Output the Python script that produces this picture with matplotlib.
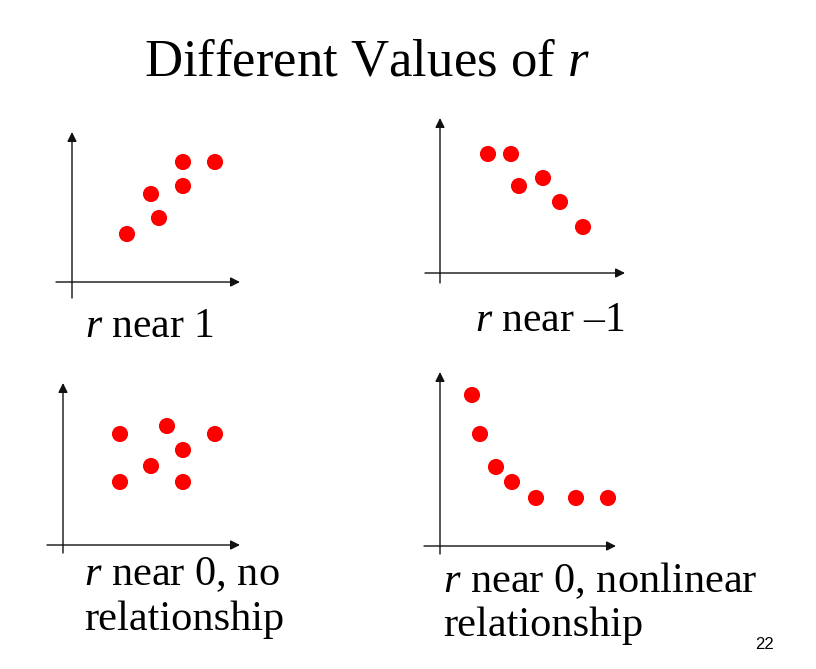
import matplotlib
matplotlib.use("Agg")
import matplotlib.pyplot as plt

plt.rcParams['font.family'] = ['Liberation Serif', 'DejaVu Serif']
plt.rcParams['mathtext.fontset'] = 'custom'
plt.rcParams['mathtext.rm'] = 'Liberation Serif'
plt.rcParams['mathtext.it'] = 'Liberation Serif:italic'

W, H = 816, 669

# data: points relative to each panel's origin
p1_x = [55, 79, 87, 111, 111, 143]
p1_y = [48, 88, 64, 120, 96, 120]
p2_x = [48, 71, 79, 103, 120, 143]
p2_y = [119, 119, 87, 95, 71, 46]
p3_x = [57, 104, 152, 88, 120, 57, 120]
p3_y = [111, 119, 111, 79, 95, 63, 63]
p4_x = [32, 40, 56, 72, 96, 136, 168]
p4_y = [151, 112, 79, 64, 48, 48, 48]

captions = [["$r$ near 1"], ["$r$ near \u20131"],
            ["$r$ near 0, no", "relationship"],
            ["$r$ near 0, nonlinear", "relationship"]]
title = "Different Values of $r$"
page = "22"

panels = [
    dict(o=(72, 282), x=p1_x, y=p1_y, xa=(-16, 168), ya=(-16, 150)),
    dict(o=(440, 273), x=p2_x, y=p2_y, xa=(-15, 185), ya=(-10, 155)),
    dict(o=(63, 545), x=p3_x, y=p3_y, xa=(-16, 177), ya=(-8, 162)),
    dict(o=(440, 546), x=p4_x, y=p4_y, xa=(-16, 176), ya=(-8, 174)),
]

fig = plt.figure(figsize=(W / 100, H / 100), dpi=100)
fig.patch.set_facecolor('white')

for p in panels:
    ox, oy = p['o']
    x0, x1, y0, y1 = -25, 195, -25, 185
    ax = fig.add_axes([(ox + x0) / W, (H - oy + y0) / H, (x1 - x0) / W, (y1 - y0) / H])
    ax.set_xlim(x0, x1)
    ax.set_ylim(y0, y1)
    ax.axis('off')
    ap = dict(arrowstyle='-|>', mutation_scale=14, lw=1.0, color='#111111',
              shrinkA=0, shrinkB=0)
    ax.annotate('', xy=(p['xa'][1], 0), xytext=(p['xa'][0], 0), arrowprops=ap)
    ax.annotate('', xy=(0, p['ya'][1]), xytext=(0, p['ya'][0]), arrowprops=ap)
    ax.scatter(p['x'], p['y'], s=135, color='#FF0000', edgecolors='none', zorder=3)

fig.text(367 / W, 1 - 75 / H, title, fontsize=38, ha='center', va='baseline')

cap_pos = [(85, [337], 30), (475, [331], 30), (84, [585, 630], 30.5), (443, [592, 636], 30.5)]
for lines, (cx, bys, fs) in zip(captions, cap_pos):
    for line, by in zip(lines, bys):
        fig.text(cx / W, 1 - by / H, line, fontsize=fs, ha='left', va='baseline')

fig.text(764 / W, 1 - 649 / H, page, fontsize=12, ha='center', va='baseline',
         family=['Liberation Sans', 'DejaVu Sans'])

fig.savefig('out.png', dpi=100, facecolor='white')
